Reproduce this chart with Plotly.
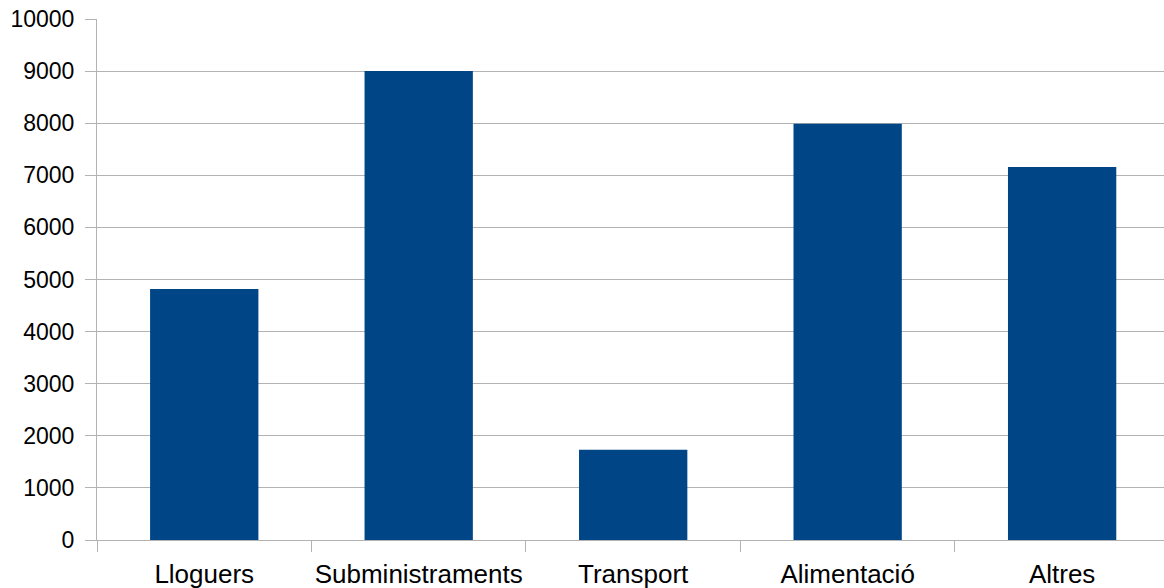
import plotly.graph_objects as go

categories = ["Lloguers", "Subministraments", "Transport", "Alimentació", "Altres"]
values = [4820, 9000, 1730, 7990, 7160]
y_ticks = [0, 1000, 2000, 3000, 4000, 5000, 6000, 7000, 8000, 9000, 10000]

grid = "#b3b3b3"
fig = go.Figure(go.Bar(x=categories, y=values, marker=dict(color="#004586", line=dict(width=0)), width=0.505))

fig.update_layout(
    width=1164, height=588,
    margin=dict(l=97, r=0, t=19, b=48, pad=0),
    plot_bgcolor="white", paper_bgcolor="white",
    showlegend=False,
    font=dict(family="Liberation Sans", size=24, color="#000000"),
)
fig.update_xaxes(
    type="category", range=[-0.5, 4.475],
    tickson="boundaries", ticks="outside", ticklen=11, tickcolor=grid, tickwidth=1,
    showgrid=False, showline=True, linecolor=grid, linewidth=1,
    tickfont=dict(size=26), tickangle=0, ticklabelstandoff=11, automargin=False,
)
fig.update_yaxes(
    range=[0, 10000], tickvals=y_ticks, ticktext=[str(v) for v in y_ticks],
    ticks="outside", ticklen=11, tickcolor=grid, tickwidth=1,
    showgrid=True, gridcolor=grid, gridwidth=1,
    showline=True, linecolor=grid, linewidth=1, zeroline=False,
    tickfont=dict(size=23), ticklabelstandoff=6, automargin=False,
)
fig.write_html(
    "out.html",
    config={"displayModeBar": False},
    post_script="document.body.style.margin='0px';document.body.style.overflow='hidden';",
)
